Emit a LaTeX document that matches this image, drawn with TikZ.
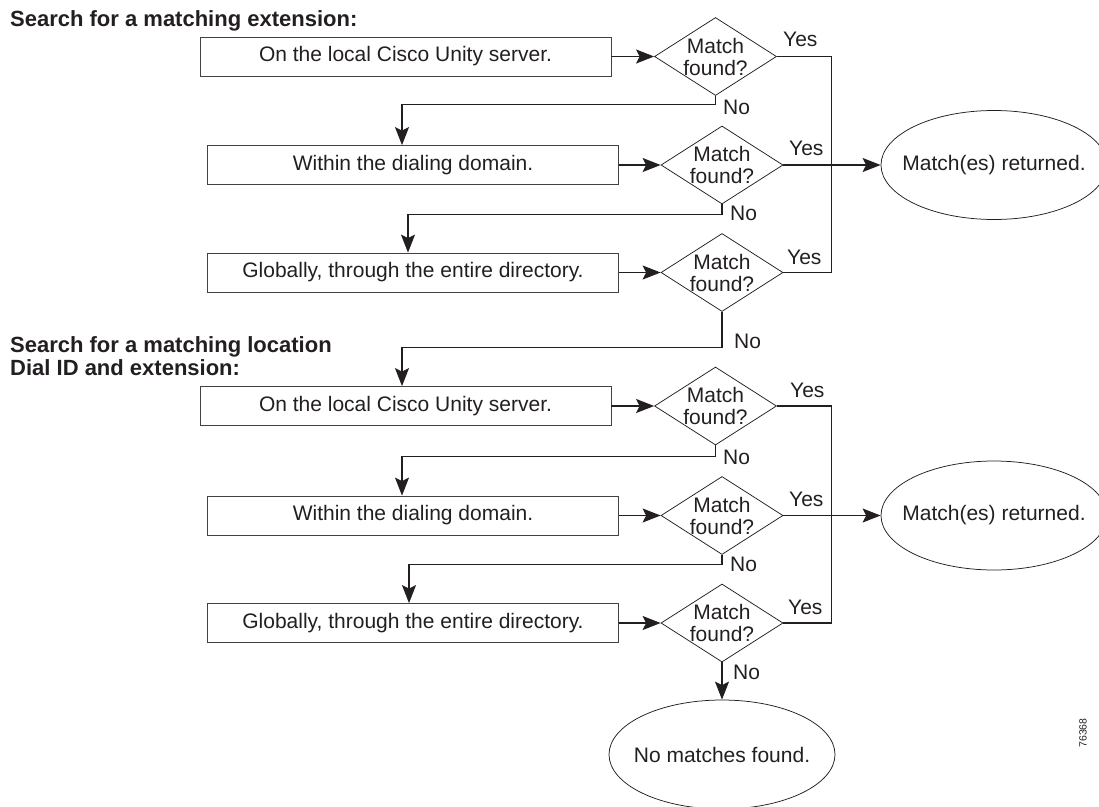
\documentclass[tikz,border=0pt]{standalone}
\usepackage{fontspec}
\setmainfont{Liberation Sans}
\usepackage{xcolor}
\usepackage{tikz}
\usetikzlibrary{shapes.geometric}
\usetikzlibrary{arrows.meta}

\definecolor{ink}{HTML}{231F20}

\begin{document}
\begin{tikzpicture}[x=1pt, y=-1pt,
        every node/.style={text=ink, font=\fontsize{21}{22}\selectfont},
        searchbox/.style={rectangle, draw=ink!85, line width=0.75pt, minimum width=411pt, minimum height=39pt, inner sep=0pt},
        decision/.style={diamond, draw=ink, line width=0.75pt, minimum width=122pt, minimum height=78pt, inner sep=-6pt, align=center},
        outcome/.style={ellipse, draw=ink, line width=0.75pt, minimum width=226pt, minimum height=109pt, inner sep=-15pt},
        heading/.style={anchor=base west, inner sep=0pt, font=\fontsize{22}{23}\selectfont\bfseries},
        answer/.style={anchor=base west, inner sep=0pt},
        flow/.style={draw=ink, line width=1.2pt},
        tip/.style={-{Stealth[length=18pt, width=14pt, inset=3.5pt]}}]
    \useasboundingbox (0,0) rectangle (1099,806);

    % search for the extension
    \node [heading] (headExt) at (10,26.7) {Search for a matching extension:};
    \node [searchbox] (boxA1) at (405.5,56.5) {On the local Cisco Unity server.};
    \node [decision] (decA1) at (715.5,56.5) {Match\\found?};
    \node [searchbox] (boxA2) at (413,165) {Within the dialing domain.};
    \node [decision] (decA2) at (722,165) {Match\\found?};
    \node [searchbox] (boxA3) at (413,272.5) {Globally, through the entire directory.};
    \node [decision] (decA3) at (722,272.5) {Match\\found?};
    \node [outcome] (endA) at (994,165) {Match(es) returned.};

    % search for the location Dial ID and extension
    \node [heading] (headLoc) at (10,352.7) {Search for a matching location};
    \node [heading] (headDial) at (10,375) {Dial ID and extension:};
    \node [searchbox] (boxB1) at (405.5,406) {On the local Cisco Unity server.};
    \node [decision] (decB1) at (715.5,406) {Match\\found?};
    \node [searchbox] (boxB2) at (413,515.5) {Within the dialing domain.};
    \node [decision] (decB2) at (722,515.5) {Match\\found?};
    \node [searchbox] (boxB3) at (413,623) {Globally, through the entire directory.};
    \node [decision] (decB3) at (722,623) {Match\\found?};
    \node [outcome] (endB) at (994,515.5) {Match(es) returned.};
    \node [outcome] (endC) at (722,754.5) {No matches found.};

    % box to decision
    \draw [flow, tip] (boxA1.east) -- (decA1.west);
    \draw [flow, tip] (boxA2.east) -- (decA2.west);
    \draw [flow, tip] (boxA3.east) -- (decA3.west);
    \draw [flow, tip] (boxB1.east) -- (decB1.west);
    \draw [flow, tip] (boxB2.east) -- (decB2.west);
    \draw [flow, tip] (boxB3.east) -- (decB3.west);

    % no branches
    \draw [flow, tip] (decA1.south) -- ++(0,9) -| ([xshift=-11pt]boxA2.north);
    \draw [flow, tip] (decA2.south) -- ++(0,10) -| ([xshift=-5pt]boxA3.north);
    \draw [flow, tip] (decA3.south) -- ++(0,35.5) -| ([xshift=-3.5pt]boxB1.north);
    \draw [flow, tip] (decB1.south) -- ++(0,11) -| ([xshift=-11pt]boxB2.north);
    \draw [flow, tip] (decB2.south) -- ++(0,10) -| ([xshift=-4pt]boxB3.north);
    \draw [flow, tip] (decB3.south) -- (endC.north);

    % yes branches
    \draw [flow] (decA1.east) -- ++(55,0) |- (decA3.east);
    \draw [flow, tip] (decA2.east) -- (endA.west);
    \draw [flow] (decB1.east) -- ++(55,0) |- (decB3.east);
    \draw [flow, tip] (decB2.east) -- (endB.west);

    % answers
    \node [answer] (yesA1) at (783,46) {Yes};
    \node [answer] (yesA2) at (789,155) {Yes};
    \node [answer] (yesA3) at (787,264) {Yes};
    \node [answer] (yesB1) at (790,397) {Yes};
    \node [answer] (yesB2) at (789,506) {Yes};
    \node [answer] (yesB3) at (788,614) {Yes};
    \node [answer] (noA1) at (723,114.5) {No};
    \node [answer] (noA2) at (730,220.5) {No};
    \node [answer] (noA3) at (734,348.5) {No};
    \node [answer] (noB1) at (723,464.5) {No};
    \node [answer] (noB2) at (730,571.5) {No};
    \node [answer] (noB3) at (733,679.5) {No};

    \node [rotate=90, font=\fontsize{10.5}{12}\selectfont] (figNum) at (1083,733) {76368};
\end{tikzpicture}
\end{document}
